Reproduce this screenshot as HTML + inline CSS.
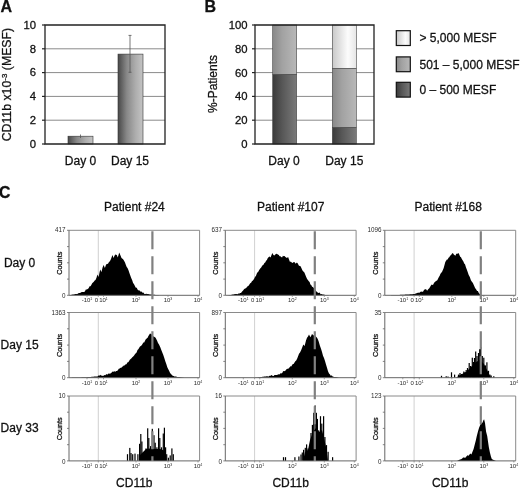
<!DOCTYPE html>
<html><head><meta charset="utf-8"><style>
html,body{margin:0;padding:0;background:#fff;width:520px;height:488px;overflow:hidden}
svg{display:block;filter:grayscale(1) blur(0.3px)}
text{font-family:"Liberation Sans",sans-serif;fill:#111;stroke:#111;stroke-width:0.28px}
.sm{fill:#2a2a2a;stroke:none}
</style></head><body>
<svg width="520" height="488" viewBox="0 0 520 488">
<defs>
<linearGradient id="gA" x1="0" x2="1" y1="0" y2="0"><stop offset="0" stop-color="#484848"/><stop offset="0.35" stop-color="#888"/><stop offset="0.7" stop-color="#adadad"/><stop offset="1" stop-color="#c4c4c4"/></linearGradient>
<linearGradient id="gD" x1="0" x2="1" y1="0" y2="0"><stop offset="0" stop-color="#3a3a3a"/><stop offset="0.4" stop-color="#575757"/><stop offset="1" stop-color="#7a7a7a"/></linearGradient>
<linearGradient id="gM" x1="0" x2="1" y1="0" y2="0"><stop offset="0" stop-color="#888"/><stop offset="0.4" stop-color="#a2a2a2"/><stop offset="1" stop-color="#b8b8b8"/></linearGradient>
<linearGradient id="gL" x1="0" x2="1" y1="0" y2="0"><stop offset="0" stop-color="#c8c8c8"/><stop offset="0.65" stop-color="#fcfcfc"/><stop offset="1" stop-color="#e6e6e6"/></linearGradient>
</defs>
<rect width="520" height="488" fill="#fff"/>
<text x="0.5" y="11.5" font-size="16" font-weight="bold" fill="#000">A</text>
<text x="204.6" y="11.5" font-size="16" font-weight="bold" fill="#000">B</text>
<text x="-1" y="198.2" font-size="15.8" font-weight="bold" fill="#000">C</text>
<line x1="45" y1="120.2" x2="165" y2="120.2" stroke="#8a8a8a" stroke-width="1"/>
<line x1="45" y1="96.4" x2="165" y2="96.4" stroke="#8a8a8a" stroke-width="1"/>
<line x1="45" y1="72.6" x2="165" y2="72.6" stroke="#8a8a8a" stroke-width="1"/>
<line x1="45" y1="48.8" x2="165" y2="48.8" stroke="#8a8a8a" stroke-width="1"/>
<rect x="68" y="136.2" width="25" height="7.8" fill="url(#gA)" stroke="#333" stroke-width="0.6"/>
<rect x="118" y="54.1" width="25" height="89.9" fill="url(#gA)" stroke="#333" stroke-width="0.6"/>
<line x1="80.5" y1="134.5" x2="80.5" y2="138" stroke="#555" stroke-width="0.8"/>
<line x1="130" y1="35.4" x2="130" y2="72.3" stroke="#555" stroke-width="0.8"/>
<line x1="128.5" y1="35.4" x2="131.5" y2="35.4" stroke="#555" stroke-width="0.8"/>
<line x1="128.5" y1="72.3" x2="131.5" y2="72.3" stroke="#555" stroke-width="0.8"/>
<path d="M45 25H165V144H45Z" fill="none" stroke="#222" stroke-width="1.3"/>
<line x1="42" y1="144.0" x2="45" y2="144.0" stroke="#222" stroke-width="1.2"/>
<text x="36" y="147.8" text-anchor="end" font-size="11.3">0</text>
<line x1="42" y1="120.2" x2="45" y2="120.2" stroke="#222" stroke-width="1.2"/>
<text x="36" y="124.0" text-anchor="end" font-size="11.3">2</text>
<line x1="42" y1="96.4" x2="45" y2="96.4" stroke="#222" stroke-width="1.2"/>
<text x="36" y="100.2" text-anchor="end" font-size="11.3">4</text>
<line x1="42" y1="72.6" x2="45" y2="72.6" stroke="#222" stroke-width="1.2"/>
<text x="36" y="76.4" text-anchor="end" font-size="11.3">6</text>
<line x1="42" y1="48.8" x2="45" y2="48.8" stroke="#222" stroke-width="1.2"/>
<text x="36" y="52.6" text-anchor="end" font-size="11.3">8</text>
<line x1="42" y1="25.0" x2="45" y2="25.0" stroke="#222" stroke-width="1.2"/>
<text x="36" y="28.9" text-anchor="end" font-size="11.3">10</text>
<text x="80.5" y="165" text-anchor="middle" font-size="12">Day 0</text>
<text x="130" y="165" text-anchor="middle" font-size="12">Day 15</text>
<text transform="translate(11.3 84.6) rotate(-90)" text-anchor="middle" font-size="12.3">CD11b x10<tspan font-size="8" dy="-4">-3</tspan><tspan dy="4"> (MESF)</tspan></text>
<line x1="255" y1="120.2" x2="374" y2="120.2" stroke="#8a8a8a" stroke-width="1"/>
<line x1="255" y1="96.4" x2="374" y2="96.4" stroke="#8a8a8a" stroke-width="1"/>
<line x1="255" y1="72.6" x2="374" y2="72.6" stroke="#8a8a8a" stroke-width="1"/>
<line x1="255" y1="48.8" x2="374" y2="48.8" stroke="#8a8a8a" stroke-width="1"/>
<rect x="272.7" y="74.3" width="24" height="69.7" fill="url(#gD)" stroke="#444" stroke-width="0.6"/>
<rect x="272.7" y="25.0" width="24" height="49.3" fill="url(#gM)" stroke="#444" stroke-width="0.6"/>
<rect x="332.3" y="127.3" width="24" height="16.7" fill="url(#gD)" stroke="#444" stroke-width="0.6"/>
<rect x="332.3" y="68.3" width="24" height="59.0" fill="url(#gM)" stroke="#444" stroke-width="0.6"/>
<rect x="332.3" y="25.0" width="24" height="43.3" fill="url(#gL)" stroke="#444" stroke-width="0.6"/>
<path d="M255 25H374V144H255Z" fill="none" stroke="#222" stroke-width="1.3"/>
<line x1="252" y1="144.0" x2="255" y2="144.0" stroke="#222" stroke-width="1.2"/>
<text x="247.6" y="147.8" text-anchor="end" font-size="11.3">0</text>
<line x1="252" y1="120.2" x2="255" y2="120.2" stroke="#222" stroke-width="1.2"/>
<text x="247.6" y="124.0" text-anchor="end" font-size="11.3">20</text>
<line x1="252" y1="96.4" x2="255" y2="96.4" stroke="#222" stroke-width="1.2"/>
<text x="247.6" y="100.2" text-anchor="end" font-size="11.3">40</text>
<line x1="252" y1="72.6" x2="255" y2="72.6" stroke="#222" stroke-width="1.2"/>
<text x="247.6" y="76.5" text-anchor="end" font-size="11.3">60</text>
<line x1="252" y1="48.8" x2="255" y2="48.8" stroke="#222" stroke-width="1.2"/>
<text x="247.6" y="52.7" text-anchor="end" font-size="11.3">80</text>
<line x1="252" y1="25.0" x2="255" y2="25.0" stroke="#222" stroke-width="1.2"/>
<text x="247.6" y="28.9" text-anchor="end" font-size="11.3">100</text>
<text x="284" y="165" text-anchor="middle" font-size="12">Day 0</text>
<text x="344.3" y="165" text-anchor="middle" font-size="12">Day 15</text>
<text transform="translate(216.5 84) rotate(-90)" text-anchor="middle" font-size="12">%-Patients</text>
<rect x="396.3" y="30.7" width="14" height="14.8" fill="url(#gL)" stroke="#111" stroke-width="1.2"/>
<text x="419.5" y="42.1" font-size="12">&gt; 5,000 MESF</text>
<rect x="396.3" y="56.9" width="14" height="14.8" fill="url(#gM)" stroke="#111" stroke-width="1.2"/>
<text x="419.5" y="69.3" font-size="12">501 – 5,000 MESF</text>
<rect x="396.3" y="82.3" width="14" height="14.8" fill="url(#gD)" stroke="#111" stroke-width="1.2"/>
<text x="419.5" y="94.1" font-size="12">0 – 500 MESF</text>
<line x1="98.3" y1="230.3" x2="98.3" y2="295.3" stroke="#c4c4c4" stroke-width="0.8"/>
<path d="M69.5 295.3L69.5 295.3L70.6 295.1L71.8 294.8L72.7 294.6L73.6 294.5L74.6 294.3L75.5 294.1L76.4 293.9L77.4 294.0L78.3 293.3L79.2 293.1L80.2 293.0L81.1 292.3L82.1 292.0L83.0 291.9L83.9 292.0L84.9 291.5L85.8 289.5L86.8 289.4L87.7 289.0L88.6 288.3L89.6 286.2L90.5 286.2L91.3 285.1L92.2 283.2L93.0 282.5L93.8 281.7L94.7 280.6L95.5 280.0L96.5 277.8L97.4 274.4L98.6 276.9L99.4 272.9L100.2 269.4L101.5 271.9L102.5 267.8L103.6 265.0L104.9 268.1L106.1 264.4L107.0 264.0L108.0 263.8L109.0 262.1L109.9 261.2L111.1 258.8L112.4 255.0L113.6 258.1L114.4 256.0L115.2 254.4L116.8 255.0L117.8 257.5L119.2 252.5L120.5 255.6L121.5 257.9L122.5 258.8L123.3 259.6L124.2 261.1L125.0 262.5L125.8 264.7L126.7 267.0L127.5 268.1L128.4 270.0L129.4 273.1L130.3 275.6L131.2 278.1L132.2 280.2L133.1 283.1L133.9 283.9L134.8 285.7L135.6 287.5L136.7 287.8L137.7 289.7L138.8 290.6L139.7 290.6L140.6 291.8L141.6 291.5L142.5 292.8L143.4 292.4L144.4 293.9L145.3 294.1L146.2 293.8L147.2 293.9L148.1 294.1L149.1 294.2L150.0 294.4L150.9 294.5L151.9 294.6L152.8 294.7L153.8 294.8L154.7 294.8L155.6 294.9L156.6 294.9L157.5 295.0L158.3 295.1L159.2 295.2L160.0 295.3L160.0 295.3Z" fill="#000"/>
<path d="M69 230.3H199.6V295.3" fill="none" stroke="#8a8a8a" stroke-width="1"/>
<path d="M69 230.3V295.3H199.6" fill="none" stroke="#666" stroke-width="1"/>
<line x1="67" y1="230.3" x2="69" y2="230.3" stroke="#666" stroke-width="0.8"/>
<line x1="67" y1="246.6" x2="69" y2="246.6" stroke="#666" stroke-width="0.8"/>
<line x1="67" y1="262.8" x2="69" y2="262.8" stroke="#666" stroke-width="0.8"/>
<line x1="67" y1="279.1" x2="69" y2="279.1" stroke="#666" stroke-width="0.8"/>
<line x1="67" y1="295.3" x2="69" y2="295.3" stroke="#666" stroke-width="0.8"/>
<text x="65.6" y="232.4" text-anchor="end" font-size="6.3" class="sm">417</text>
<text x="65.6" y="297.9" text-anchor="end" font-size="6.3" class="sm">0</text>
<text x="87.0" y="302.3" text-anchor="middle" font-size="6" class="sm">-10<tspan font-size="3.5" dy="-2">1</tspan></text>
<text x="96.3" y="302.3" text-anchor="middle" font-size="6" class="sm">0</text>
<text x="103.5" y="302.3" text-anchor="middle" font-size="6" class="sm">10<tspan font-size="3.5" dy="-2">1</tspan></text>
<text x="136.0" y="302.3" text-anchor="middle" font-size="6" class="sm">10<tspan font-size="3.5" dy="-2">2</tspan></text>
<text x="168.0" y="302.3" text-anchor="middle" font-size="6" class="sm">10<tspan font-size="3.5" dy="-2">3</tspan></text>
<text x="198.0" y="302.3" text-anchor="middle" font-size="6" class="sm">10<tspan font-size="3.5" dy="-2">4</tspan></text>
<line x1="87.0" y1="295.3" x2="87.0" y2="296.9" stroke="#777" stroke-width="0.7"/>
<line x1="98.3" y1="295.3" x2="98.3" y2="296.9" stroke="#777" stroke-width="0.7"/>
<line x1="103.5" y1="295.3" x2="103.5" y2="296.9" stroke="#777" stroke-width="0.7"/>
<line x1="136.0" y1="295.3" x2="136.0" y2="296.9" stroke="#777" stroke-width="0.7"/>
<line x1="168.0" y1="295.3" x2="168.0" y2="296.9" stroke="#777" stroke-width="0.7"/>
<line x1="198.0" y1="295.3" x2="198.0" y2="296.9" stroke="#777" stroke-width="0.7"/>
<text transform="translate(61.9 263.2) rotate(-90)" text-anchor="middle" font-size="7.3" stroke="#111" stroke-width="0.18">Counts</text>
<line x1="98.3" y1="312.5" x2="98.3" y2="377.7" stroke="#c4c4c4" stroke-width="0.8"/>
<path d="M70.5 377.7L70.5 377.7L71.3 377.7L72.1 377.6L72.9 377.6L73.8 377.6L74.6 377.6L75.4 377.6L76.2 377.5L77.0 377.5L77.8 377.5L78.6 377.4L79.4 377.4L80.2 377.4L81.1 377.4L81.9 377.3L82.7 377.3L83.5 377.3L84.3 377.3L85.1 377.2L85.9 377.2L86.8 377.2L87.6 377.1L88.4 377.1L89.2 377.0L90.1 376.9L90.9 376.9L91.8 376.8L92.6 376.7L93.4 376.7L94.2 376.6L95.1 376.5L95.9 376.5L96.8 376.4L97.6 376.6L98.4 375.6L99.2 375.4L100.0 375.5L100.9 374.8L101.8 375.9L102.7 375.7L103.6 375.8L104.5 375.1L105.4 375.3L106.3 374.1L107.2 374.8L108.1 373.8L109.0 373.6L109.9 373.7L110.8 373.2L111.7 372.6L112.6 371.5L113.5 371.7L114.4 371.2L115.3 371.8L116.2 371.1L117.1 370.9L118.0 370.0L118.8 368.8L119.7 368.4L120.6 367.8L121.4 367.8L122.2 366.7L123.1 366.2L124.0 365.3L124.8 365.5L125.6 364.2L126.5 364.3L127.3 362.4L128.2 362.2L129.0 361.2L129.8 359.8L130.7 359.1L131.5 358.2L132.3 357.3L133.2 356.5L134.1 355.4L134.9 354.3L135.8 353.3L136.6 352.4L137.5 349.9L138.3 349.2L139.2 347.7L140.0 346.4L140.8 346.0L141.7 345.3L142.5 344.1L143.3 342.6L144.2 342.5L145.0 340.8L145.8 339.3L146.7 338.5L147.6 337.7L148.4 336.0L150.0 333.4L151.6 334.2L152.6 335.9L153.6 336.6L154.6 337.1L155.6 337.7L157.0 340.6L158.0 343.0L159.0 344.6L160.3 347.3L161.3 350.0L162.3 352.6L163.3 355.1L164.3 358.0L165.3 361.2L166.3 364.0L167.3 367.3L168.3 369.3L169.2 370.9L170.1 372.9L171.0 374.0L171.9 375.1L172.7 375.8L173.6 375.9L174.4 376.4L175.3 376.4L176.2 376.6L177.0 376.9L177.8 377.0L178.6 377.1L179.4 377.1L180.2 377.2L181.0 377.3L182.0 377.4L183.0 377.6L184.0 377.7L184.0 377.7Z" fill="#000"/>
<path d="M69 312.5H199.6V377.7" fill="none" stroke="#8a8a8a" stroke-width="1"/>
<path d="M69 312.5V377.7H199.6" fill="none" stroke="#666" stroke-width="1"/>
<line x1="67" y1="312.5" x2="69" y2="312.5" stroke="#666" stroke-width="0.8"/>
<line x1="67" y1="328.8" x2="69" y2="328.8" stroke="#666" stroke-width="0.8"/>
<line x1="67" y1="345.1" x2="69" y2="345.1" stroke="#666" stroke-width="0.8"/>
<line x1="67" y1="361.4" x2="69" y2="361.4" stroke="#666" stroke-width="0.8"/>
<line x1="67" y1="377.7" x2="69" y2="377.7" stroke="#666" stroke-width="0.8"/>
<text x="65.6" y="314.6" text-anchor="end" font-size="6.3" class="sm">1363</text>
<text x="65.6" y="380.3" text-anchor="end" font-size="6.3" class="sm">0</text>
<text x="87.0" y="384.7" text-anchor="middle" font-size="6" class="sm">-10<tspan font-size="3.5" dy="-2">1</tspan></text>
<text x="96.3" y="384.7" text-anchor="middle" font-size="6" class="sm">0</text>
<text x="103.5" y="384.7" text-anchor="middle" font-size="6" class="sm">10<tspan font-size="3.5" dy="-2">1</tspan></text>
<text x="136.0" y="384.7" text-anchor="middle" font-size="6" class="sm">10<tspan font-size="3.5" dy="-2">2</tspan></text>
<text x="168.0" y="384.7" text-anchor="middle" font-size="6" class="sm">10<tspan font-size="3.5" dy="-2">3</tspan></text>
<text x="198.0" y="384.7" text-anchor="middle" font-size="6" class="sm">10<tspan font-size="3.5" dy="-2">4</tspan></text>
<line x1="87.0" y1="377.7" x2="87.0" y2="379.3" stroke="#777" stroke-width="0.7"/>
<line x1="98.3" y1="377.7" x2="98.3" y2="379.3" stroke="#777" stroke-width="0.7"/>
<line x1="103.5" y1="377.7" x2="103.5" y2="379.3" stroke="#777" stroke-width="0.7"/>
<line x1="136.0" y1="377.7" x2="136.0" y2="379.3" stroke="#777" stroke-width="0.7"/>
<line x1="168.0" y1="377.7" x2="168.0" y2="379.3" stroke="#777" stroke-width="0.7"/>
<line x1="198.0" y1="377.7" x2="198.0" y2="379.3" stroke="#777" stroke-width="0.7"/>
<text transform="translate(61.9 345.5) rotate(-90)" text-anchor="middle" font-size="7.3" stroke="#111" stroke-width="0.18">Counts</text>
<line x1="98.3" y1="396" x2="98.3" y2="460.9" stroke="#c4c4c4" stroke-width="0.8"/>
<path d="M139.0 460.9L139.0 460.9L140.0 455.0L143.0 452.0L146.0 449.0L150.0 448.5L156.0 449.0L160.0 449.0L163.0 450.0L165.5 452.0L166.5 460.9L166.5 460.9Z" fill="#000"/>
<rect x="126.9" y="454.2" width="1.2" height="6.7" fill="#000"/>
<rect x="129.2" y="447.9" width="1.2" height="13.0" fill="#000"/>
<rect x="130.4" y="453.0" width="1.2" height="7.9" fill="#000"/>
<rect x="132.1" y="454.2" width="1.2" height="6.7" fill="#000"/>
<rect x="134.4" y="453.6" width="1.2" height="7.3" fill="#000"/>
<rect x="137.3" y="454.2" width="1.2" height="6.7" fill="#000"/>
<rect x="139.0" y="443.8" width="1.2" height="17.1" fill="#000"/>
<rect x="140.2" y="434.0" width="1.2" height="26.9" fill="#000"/>
<rect x="141.3" y="441.5" width="1.2" height="19.4" fill="#000"/>
<rect x="143.6" y="453.0" width="1.2" height="7.9" fill="#000"/>
<rect x="145.4" y="448.4" width="1.2" height="12.5" fill="#000"/>
<rect x="147.1" y="428.3" width="1.2" height="32.6" fill="#000"/>
<rect x="148.2" y="438.0" width="1.2" height="22.9" fill="#000"/>
<rect x="150.0" y="446.1" width="1.2" height="14.8" fill="#000"/>
<rect x="151.7" y="428.8" width="1.2" height="32.1" fill="#000"/>
<rect x="153.4" y="435.2" width="1.2" height="25.7" fill="#000"/>
<rect x="154.6" y="442.7" width="1.2" height="18.2" fill="#000"/>
<rect x="156.3" y="447.3" width="1.2" height="13.6" fill="#000"/>
<rect x="158.0" y="428.3" width="1.2" height="32.6" fill="#000"/>
<rect x="159.2" y="438.0" width="1.2" height="22.9" fill="#000"/>
<rect x="160.9" y="447.3" width="1.2" height="13.6" fill="#000"/>
<rect x="162.7" y="433.5" width="1.2" height="27.4" fill="#000"/>
<rect x="163.8" y="427.7" width="1.2" height="33.2" fill="#000"/>
<rect x="165.0" y="447.3" width="1.2" height="13.6" fill="#000"/>
<rect x="166.1" y="454.2" width="1.2" height="6.7" fill="#000"/>
<rect x="167.8" y="457.7" width="1.2" height="3.2" fill="#000"/>
<rect x="169.6" y="455.4" width="1.2" height="5.5" fill="#000"/>
<rect x="171.3" y="448.4" width="1.2" height="12.5" fill="#000"/>
<rect x="172.7" y="454.2" width="1.2" height="6.7" fill="#000"/>
<path d="M69 396H199.6V460.9" fill="none" stroke="#8a8a8a" stroke-width="1"/>
<path d="M69 396V460.9H199.6" fill="none" stroke="#666" stroke-width="1"/>
<line x1="67" y1="396.0" x2="69" y2="396.0" stroke="#666" stroke-width="0.8"/>
<line x1="67" y1="412.2" x2="69" y2="412.2" stroke="#666" stroke-width="0.8"/>
<line x1="67" y1="428.4" x2="69" y2="428.4" stroke="#666" stroke-width="0.8"/>
<line x1="67" y1="444.7" x2="69" y2="444.7" stroke="#666" stroke-width="0.8"/>
<line x1="67" y1="460.9" x2="69" y2="460.9" stroke="#666" stroke-width="0.8"/>
<text x="65.6" y="398.1" text-anchor="end" font-size="6.3" class="sm">10</text>
<text x="65.6" y="463.5" text-anchor="end" font-size="6.3" class="sm">0</text>
<text x="87.0" y="467.9" text-anchor="middle" font-size="6" class="sm">-10<tspan font-size="3.5" dy="-2">1</tspan></text>
<text x="96.3" y="467.9" text-anchor="middle" font-size="6" class="sm">0</text>
<text x="103.5" y="467.9" text-anchor="middle" font-size="6" class="sm">10<tspan font-size="3.5" dy="-2">1</tspan></text>
<text x="136.0" y="467.9" text-anchor="middle" font-size="6" class="sm">10<tspan font-size="3.5" dy="-2">2</tspan></text>
<text x="168.0" y="467.9" text-anchor="middle" font-size="6" class="sm">10<tspan font-size="3.5" dy="-2">3</tspan></text>
<text x="198.0" y="467.9" text-anchor="middle" font-size="6" class="sm">10<tspan font-size="3.5" dy="-2">4</tspan></text>
<line x1="87.0" y1="460.9" x2="87.0" y2="462.5" stroke="#777" stroke-width="0.7"/>
<line x1="98.3" y1="460.9" x2="98.3" y2="462.5" stroke="#777" stroke-width="0.7"/>
<line x1="103.5" y1="460.9" x2="103.5" y2="462.5" stroke="#777" stroke-width="0.7"/>
<line x1="136.0" y1="460.9" x2="136.0" y2="462.5" stroke="#777" stroke-width="0.7"/>
<line x1="168.0" y1="460.9" x2="168.0" y2="462.5" stroke="#777" stroke-width="0.7"/>
<line x1="198.0" y1="460.9" x2="198.0" y2="462.5" stroke="#777" stroke-width="0.7"/>
<text transform="translate(61.9 428.8) rotate(-90)" text-anchor="middle" font-size="7.3" stroke="#111" stroke-width="0.18">Counts</text>
<line x1="254.6" y1="230.3" x2="254.6" y2="295.3" stroke="#c4c4c4" stroke-width="0.8"/>
<path d="M228.0 295.3L228.0 295.3L229.0 295.1L230.0 295.0L230.8 294.9L231.7 294.7L232.5 294.6L233.3 294.4L234.2 294.2L235.0 294.1L235.8 293.9L236.7 294.1L237.5 294.2L238.3 293.5L239.2 293.7L240.0 292.9L241.0 292.9L242.1 291.5L243.1 290.6L244.2 289.1L245.2 288.4L246.2 288.1L247.3 286.4L248.3 286.1L249.4 284.4L250.2 283.3L251.1 282.7L251.9 281.2L252.9 280.4L254.0 279.0L255.0 276.9L256.0 275.7L257.1 272.8L258.1 271.9L259.2 269.9L260.2 268.4L261.2 267.5L262.3 265.5L263.3 265.1L264.4 263.1L265.2 262.4L266.1 260.8L266.9 260.0L267.8 258.1L268.8 256.9L269.7 256.6L270.6 257.5L271.6 254.7L272.5 253.1L273.4 255.1L274.4 255.6L275.3 254.5L276.2 253.8L277.1 253.9L277.9 254.6L278.8 255.0L279.6 256.2L280.4 256.3L281.2 256.9L282.1 257.4L282.9 255.7L283.8 256.2L284.6 256.0L285.4 257.0L286.2 257.5L286.9 258.1L288.1 256.9L289.1 259.7L290.0 261.9L290.8 261.6L291.7 262.6L292.5 263.1L293.8 261.9L294.7 262.2L295.6 263.8L296.9 262.5L297.8 263.5L298.8 265.6L299.7 265.9L300.6 266.2L301.6 268.6L302.5 270.6L303.4 271.4L304.4 272.5L305.3 274.8L306.2 276.9L307.1 278.9L307.9 280.1L308.8 281.2L309.6 282.0L310.4 284.5L311.2 285.0L312.1 286.8L312.9 286.9L313.8 288.1L314.6 289.5L315.4 290.1L316.2 291.2L317.1 291.9L317.9 292.8L318.8 293.1L319.7 292.6L320.6 294.3L321.6 294.1L322.5 294.4L323.4 294.5L324.4 294.7L325.3 294.9L326.2 295.0L327.2 295.1L328.1 295.1L329.1 295.2L330.0 295.3L330.0 295.3Z" fill="#000"/>
<path d="M225.3 230.3H356.1V295.3" fill="none" stroke="#8a8a8a" stroke-width="1"/>
<path d="M225.3 230.3V295.3H356.1" fill="none" stroke="#666" stroke-width="1"/>
<line x1="223.3" y1="230.3" x2="225.3" y2="230.3" stroke="#666" stroke-width="0.8"/>
<line x1="223.3" y1="246.6" x2="225.3" y2="246.6" stroke="#666" stroke-width="0.8"/>
<line x1="223.3" y1="262.8" x2="225.3" y2="262.8" stroke="#666" stroke-width="0.8"/>
<line x1="223.3" y1="279.1" x2="225.3" y2="279.1" stroke="#666" stroke-width="0.8"/>
<line x1="223.3" y1="295.3" x2="225.3" y2="295.3" stroke="#666" stroke-width="0.8"/>
<text x="221.9" y="232.4" text-anchor="end" font-size="6.3" class="sm">637</text>
<text x="221.9" y="297.9" text-anchor="end" font-size="6.3" class="sm">0</text>
<text x="243.3" y="302.3" text-anchor="middle" font-size="6" class="sm">-10<tspan font-size="3.5" dy="-2">1</tspan></text>
<text x="252.6" y="302.3" text-anchor="middle" font-size="6" class="sm">0</text>
<text x="259.8" y="302.3" text-anchor="middle" font-size="6" class="sm">10<tspan font-size="3.5" dy="-2">1</tspan></text>
<text x="292.3" y="302.3" text-anchor="middle" font-size="6" class="sm">10<tspan font-size="3.5" dy="-2">2</tspan></text>
<text x="324.3" y="302.3" text-anchor="middle" font-size="6" class="sm">10<tspan font-size="3.5" dy="-2">3</tspan></text>
<text x="354.3" y="302.3" text-anchor="middle" font-size="6" class="sm">10<tspan font-size="3.5" dy="-2">4</tspan></text>
<line x1="243.3" y1="295.3" x2="243.3" y2="296.9" stroke="#777" stroke-width="0.7"/>
<line x1="254.6" y1="295.3" x2="254.6" y2="296.9" stroke="#777" stroke-width="0.7"/>
<line x1="259.8" y1="295.3" x2="259.8" y2="296.9" stroke="#777" stroke-width="0.7"/>
<line x1="292.3" y1="295.3" x2="292.3" y2="296.9" stroke="#777" stroke-width="0.7"/>
<line x1="324.3" y1="295.3" x2="324.3" y2="296.9" stroke="#777" stroke-width="0.7"/>
<line x1="354.3" y1="295.3" x2="354.3" y2="296.9" stroke="#777" stroke-width="0.7"/>
<text transform="translate(218.2 263.2) rotate(-90)" text-anchor="middle" font-size="7.3" stroke="#111" stroke-width="0.18">Counts</text>
<line x1="254.6" y1="312.5" x2="254.6" y2="377.7" stroke="#c4c4c4" stroke-width="0.8"/>
<path d="M255.0 377.7L255.0 377.7L255.8 377.6L256.7 377.5L257.5 377.4L258.3 377.3L259.2 377.2L260.0 377.1L260.8 377.0L261.7 376.9L262.5 376.8L263.3 376.7L264.2 376.6L265.0 376.5L265.8 376.4L266.7 376.3L267.5 376.2L268.3 376.8L269.2 375.7L270.0 376.0L270.9 375.6L271.8 375.0L272.7 376.0L273.6 375.9L274.5 375.0L275.4 375.0L276.2 375.1L277.2 375.1L278.1 374.2L279.1 374.4L280.0 373.9L280.8 372.9L281.6 373.5L282.4 372.8L283.2 371.1L284.0 371.3L284.8 371.0L285.6 370.6L286.4 369.2L287.2 368.9L288.0 368.6L288.8 368.5L289.6 367.2L290.4 366.3L291.2 366.5L292.0 365.3L292.8 364.0L293.6 363.9L294.5 362.6L295.3 361.3L296.2 360.4L297.1 358.7L298.0 356.6L299.0 353.8L300.0 352.6L301.0 350.5L302.0 348.0L303.3 344.6L304.6 346.0L306.0 340.6L307.0 337.8L308.0 336.6L309.0 334.6L310.4 337.3L311.2 335.8L312.0 334.0L313.3 335.3L314.3 335.5L315.3 336.0L316.6 337.3L317.6 338.7L318.6 341.3L320.0 346.0L321.0 348.7L322.0 352.0L323.0 355.7L324.0 358.0L325.0 361.1L326.0 364.6L327.0 367.7L328.0 371.3L329.0 373.5L330.0 374.6L330.9 376.0L331.7 375.3L332.6 376.6L333.5 376.7L334.3 376.9L335.1 377.0L336.0 377.1L337.0 377.3L338.0 377.5L339.0 377.7L339.0 377.7Z" fill="#000"/>
<path d="M225.3 312.5H356.1V377.7" fill="none" stroke="#8a8a8a" stroke-width="1"/>
<path d="M225.3 312.5V377.7H356.1" fill="none" stroke="#666" stroke-width="1"/>
<line x1="223.3" y1="312.5" x2="225.3" y2="312.5" stroke="#666" stroke-width="0.8"/>
<line x1="223.3" y1="328.8" x2="225.3" y2="328.8" stroke="#666" stroke-width="0.8"/>
<line x1="223.3" y1="345.1" x2="225.3" y2="345.1" stroke="#666" stroke-width="0.8"/>
<line x1="223.3" y1="361.4" x2="225.3" y2="361.4" stroke="#666" stroke-width="0.8"/>
<line x1="223.3" y1="377.7" x2="225.3" y2="377.7" stroke="#666" stroke-width="0.8"/>
<text x="221.9" y="314.6" text-anchor="end" font-size="6.3" class="sm">897</text>
<text x="221.9" y="380.3" text-anchor="end" font-size="6.3" class="sm">0</text>
<text x="243.3" y="384.7" text-anchor="middle" font-size="6" class="sm">-10<tspan font-size="3.5" dy="-2">1</tspan></text>
<text x="252.6" y="384.7" text-anchor="middle" font-size="6" class="sm">0</text>
<text x="259.8" y="384.7" text-anchor="middle" font-size="6" class="sm">10<tspan font-size="3.5" dy="-2">1</tspan></text>
<text x="292.3" y="384.7" text-anchor="middle" font-size="6" class="sm">10<tspan font-size="3.5" dy="-2">2</tspan></text>
<text x="324.3" y="384.7" text-anchor="middle" font-size="6" class="sm">10<tspan font-size="3.5" dy="-2">3</tspan></text>
<text x="354.3" y="384.7" text-anchor="middle" font-size="6" class="sm">10<tspan font-size="3.5" dy="-2">4</tspan></text>
<line x1="243.3" y1="377.7" x2="243.3" y2="379.3" stroke="#777" stroke-width="0.7"/>
<line x1="254.6" y1="377.7" x2="254.6" y2="379.3" stroke="#777" stroke-width="0.7"/>
<line x1="259.8" y1="377.7" x2="259.8" y2="379.3" stroke="#777" stroke-width="0.7"/>
<line x1="292.3" y1="377.7" x2="292.3" y2="379.3" stroke="#777" stroke-width="0.7"/>
<line x1="324.3" y1="377.7" x2="324.3" y2="379.3" stroke="#777" stroke-width="0.7"/>
<line x1="354.3" y1="377.7" x2="354.3" y2="379.3" stroke="#777" stroke-width="0.7"/>
<text transform="translate(218.2 345.5) rotate(-90)" text-anchor="middle" font-size="7.3" stroke="#111" stroke-width="0.18">Counts</text>
<line x1="254.6" y1="396" x2="254.6" y2="460.9" stroke="#c4c4c4" stroke-width="0.8"/>
<path d="M303.0 460.9L303.0 460.9L305.0 452.0L308.0 450.0L310.0 440.0L313.0 432.0L316.0 428.0L319.0 432.0L322.0 430.0L324.0 438.0L326.0 447.0L328.0 460.9L328.0 460.9Z" fill="#000"/>
<rect x="282.9" y="457.2" width="1.2" height="3.7" fill="#000"/>
<rect x="284.9" y="457.2" width="1.2" height="3.7" fill="#000"/>
<rect x="294.3" y="457.2" width="1.2" height="3.7" fill="#000"/>
<rect x="298.3" y="456.5" width="1.2" height="4.4" fill="#000"/>
<rect x="300.4" y="454.5" width="1.2" height="6.4" fill="#000"/>
<rect x="301.7" y="452.5" width="1.2" height="8.4" fill="#000"/>
<rect x="303.0" y="449.8" width="1.2" height="11.1" fill="#000"/>
<rect x="304.7" y="447.8" width="1.2" height="13.1" fill="#000"/>
<rect x="306.0" y="444.4" width="1.2" height="16.5" fill="#000"/>
<rect x="307.4" y="448.5" width="1.2" height="12.4" fill="#000"/>
<rect x="308.7" y="451.2" width="1.2" height="9.7" fill="#000"/>
<rect x="310.4" y="433.0" width="1.2" height="27.9" fill="#000"/>
<rect x="311.8" y="424.9" width="1.2" height="36.0" fill="#000"/>
<rect x="313.1" y="412.8" width="1.2" height="48.1" fill="#000"/>
<rect x="314.5" y="405.4" width="1.2" height="55.5" fill="#000"/>
<rect x="315.8" y="412.8" width="1.2" height="48.1" fill="#000"/>
<rect x="316.8" y="418.9" width="1.2" height="42.0" fill="#000"/>
<rect x="318.1" y="430.3" width="1.2" height="30.6" fill="#000"/>
<rect x="319.9" y="416.2" width="1.2" height="44.7" fill="#000"/>
<rect x="321.2" y="423.6" width="1.2" height="37.3" fill="#000"/>
<rect x="323.0" y="416.2" width="1.2" height="44.7" fill="#000"/>
<rect x="324.3" y="437.0" width="1.2" height="23.9" fill="#000"/>
<rect x="325.9" y="445.1" width="1.2" height="15.8" fill="#000"/>
<rect x="327.5" y="451.8" width="1.2" height="9.1" fill="#000"/>
<rect x="332.0" y="457.2" width="1.2" height="3.7" fill="#000"/>
<path d="M225.3 396H356.1V460.9" fill="none" stroke="#8a8a8a" stroke-width="1"/>
<path d="M225.3 396V460.9H356.1" fill="none" stroke="#666" stroke-width="1"/>
<line x1="223.3" y1="396.0" x2="225.3" y2="396.0" stroke="#666" stroke-width="0.8"/>
<line x1="223.3" y1="412.2" x2="225.3" y2="412.2" stroke="#666" stroke-width="0.8"/>
<line x1="223.3" y1="428.4" x2="225.3" y2="428.4" stroke="#666" stroke-width="0.8"/>
<line x1="223.3" y1="444.7" x2="225.3" y2="444.7" stroke="#666" stroke-width="0.8"/>
<line x1="223.3" y1="460.9" x2="225.3" y2="460.9" stroke="#666" stroke-width="0.8"/>
<text x="221.9" y="398.1" text-anchor="end" font-size="6.3" class="sm">16</text>
<text x="221.9" y="463.5" text-anchor="end" font-size="6.3" class="sm">0</text>
<text x="243.3" y="467.9" text-anchor="middle" font-size="6" class="sm">-10<tspan font-size="3.5" dy="-2">1</tspan></text>
<text x="252.6" y="467.9" text-anchor="middle" font-size="6" class="sm">0</text>
<text x="259.8" y="467.9" text-anchor="middle" font-size="6" class="sm">10<tspan font-size="3.5" dy="-2">1</tspan></text>
<text x="292.3" y="467.9" text-anchor="middle" font-size="6" class="sm">10<tspan font-size="3.5" dy="-2">2</tspan></text>
<text x="324.3" y="467.9" text-anchor="middle" font-size="6" class="sm">10<tspan font-size="3.5" dy="-2">3</tspan></text>
<text x="354.3" y="467.9" text-anchor="middle" font-size="6" class="sm">10<tspan font-size="3.5" dy="-2">4</tspan></text>
<line x1="243.3" y1="460.9" x2="243.3" y2="462.5" stroke="#777" stroke-width="0.7"/>
<line x1="254.6" y1="460.9" x2="254.6" y2="462.5" stroke="#777" stroke-width="0.7"/>
<line x1="259.8" y1="460.9" x2="259.8" y2="462.5" stroke="#777" stroke-width="0.7"/>
<line x1="292.3" y1="460.9" x2="292.3" y2="462.5" stroke="#777" stroke-width="0.7"/>
<line x1="324.3" y1="460.9" x2="324.3" y2="462.5" stroke="#777" stroke-width="0.7"/>
<line x1="354.3" y1="460.9" x2="354.3" y2="462.5" stroke="#777" stroke-width="0.7"/>
<text transform="translate(218.2 428.8) rotate(-90)" text-anchor="middle" font-size="7.3" stroke="#111" stroke-width="0.18">Counts</text>
<line x1="414.1" y1="230.3" x2="414.1" y2="295.3" stroke="#c4c4c4" stroke-width="0.8"/>
<path d="M386.5 295.3L386.5 295.3L387.3 295.3L388.1 295.2L388.9 295.2L389.8 295.2L390.6 295.2L391.4 295.1L392.2 295.1L393.0 295.1L393.8 295.1L394.6 295.0L395.4 295.0L396.2 295.0L397.1 294.9L397.9 294.9L398.7 294.9L399.5 294.9L400.3 294.8L401.1 294.8L401.9 294.8L402.8 294.8L403.6 294.7L404.4 294.7L405.2 294.6L406.0 294.6L406.8 294.5L407.6 294.5L408.4 294.4L409.2 294.4L410.0 294.3L410.8 294.3L411.6 294.2L412.4 294.2L413.2 294.1L414.0 294.1L414.8 293.9L415.7 293.6L416.5 293.2L417.3 292.9L418.2 292.5L419.0 293.1L420.0 292.3L421.0 291.5L422.0 291.8L423.0 291.7L424.0 290.1L425.0 289.2L426.1 289.2L427.1 290.8L428.2 289.2L429.3 288.2L430.9 285.5L431.7 284.6L432.5 285.0L433.3 284.6L434.1 282.8L435.7 281.2L436.5 280.8L437.3 280.2L438.9 277.0L439.7 275.8L440.5 273.8L441.3 272.7L442.1 271.7L443.7 267.9L444.5 264.9L445.3 262.1L446.9 259.4L447.7 259.4L448.5 257.8L449.3 257.2L450.1 255.7L451.1 254.9L452.2 253.3L453.0 253.2L453.8 254.6L455.4 255.7L456.2 254.1L457.0 253.5L457.8 253.8L458.6 253.0L460.2 256.7L461.0 257.3L461.8 258.9L463.4 261.5L464.2 263.5L465.0 264.2L466.0 267.4L466.8 269.4L467.6 271.7L468.7 275.0L469.8 277.0L470.9 280.2L471.9 281.8L472.9 283.0L474.0 285.5L475.1 287.9L476.2 289.4L477.1 291.1L477.9 291.0L478.8 293.1L479.7 293.9L480.6 294.8L481.5 294.9L482.4 294.9L483.2 295.1L484.1 295.1L485.0 295.2L486.0 295.3L487.0 295.3L487.0 295.3Z" fill="#000"/>
<path d="M384.8 230.3H515.7V295.3" fill="none" stroke="#8a8a8a" stroke-width="1"/>
<path d="M384.8 230.3V295.3H515.7" fill="none" stroke="#666" stroke-width="1"/>
<line x1="382.8" y1="230.3" x2="384.8" y2="230.3" stroke="#666" stroke-width="0.8"/>
<line x1="382.8" y1="246.6" x2="384.8" y2="246.6" stroke="#666" stroke-width="0.8"/>
<line x1="382.8" y1="262.8" x2="384.8" y2="262.8" stroke="#666" stroke-width="0.8"/>
<line x1="382.8" y1="279.1" x2="384.8" y2="279.1" stroke="#666" stroke-width="0.8"/>
<line x1="382.8" y1="295.3" x2="384.8" y2="295.3" stroke="#666" stroke-width="0.8"/>
<text x="381.40000000000003" y="232.4" text-anchor="end" font-size="6.3" class="sm">1096</text>
<text x="381.40000000000003" y="297.9" text-anchor="end" font-size="6.3" class="sm">0</text>
<text x="402.8" y="302.3" text-anchor="middle" font-size="6" class="sm">-10<tspan font-size="3.5" dy="-2">1</tspan></text>
<text x="412.1" y="302.3" text-anchor="middle" font-size="6" class="sm">0</text>
<text x="419.3" y="302.3" text-anchor="middle" font-size="6" class="sm">10<tspan font-size="3.5" dy="-2">1</tspan></text>
<text x="451.8" y="302.3" text-anchor="middle" font-size="6" class="sm">10<tspan font-size="3.5" dy="-2">2</tspan></text>
<text x="483.8" y="302.3" text-anchor="middle" font-size="6" class="sm">10<tspan font-size="3.5" dy="-2">3</tspan></text>
<text x="513.8" y="302.3" text-anchor="middle" font-size="6" class="sm">10<tspan font-size="3.5" dy="-2">4</tspan></text>
<line x1="402.8" y1="295.3" x2="402.8" y2="296.9" stroke="#777" stroke-width="0.7"/>
<line x1="414.1" y1="295.3" x2="414.1" y2="296.9" stroke="#777" stroke-width="0.7"/>
<line x1="419.3" y1="295.3" x2="419.3" y2="296.9" stroke="#777" stroke-width="0.7"/>
<line x1="451.8" y1="295.3" x2="451.8" y2="296.9" stroke="#777" stroke-width="0.7"/>
<line x1="483.8" y1="295.3" x2="483.8" y2="296.9" stroke="#777" stroke-width="0.7"/>
<line x1="513.8" y1="295.3" x2="513.8" y2="296.9" stroke="#777" stroke-width="0.7"/>
<text transform="translate(377.7 263.2) rotate(-90)" text-anchor="middle" font-size="7.3" stroke="#111" stroke-width="0.18">Counts</text>
<line x1="414.1" y1="312.5" x2="414.1" y2="377.7" stroke="#c4c4c4" stroke-width="0.8"/>
<path d="M456.0 377.7L456.0 377.7L460.0 375.0L466.0 372.0L472.0 366.0L476.0 362.0L480.0 360.0L484.0 364.0L488.0 372.0L491.0 377.7L491.0 377.7Z" fill="#000"/>
<rect x="440.9" y="375.8" width="1.2" height="1.9" fill="#000"/>
<rect x="445.6" y="376.2" width="1.2" height="1.5" fill="#000"/>
<rect x="447.4" y="376.5" width="1.2" height="1.2" fill="#000"/>
<rect x="450.9" y="372.3" width="1.2" height="5.4" fill="#000"/>
<rect x="454.0" y="374.6" width="1.2" height="3.1" fill="#000"/>
<rect x="457.9" y="374.6" width="1.2" height="3.1" fill="#000"/>
<rect x="459.4" y="373.0" width="1.2" height="4.7" fill="#000"/>
<rect x="460.9" y="374.0" width="1.2" height="3.7" fill="#000"/>
<rect x="463.2" y="371.5" width="1.2" height="6.2" fill="#000"/>
<rect x="464.4" y="372.0" width="1.2" height="5.7" fill="#000"/>
<rect x="465.6" y="370.0" width="1.2" height="7.7" fill="#000"/>
<rect x="466.9" y="368.0" width="1.2" height="9.7" fill="#000"/>
<rect x="468.6" y="363.0" width="1.2" height="14.7" fill="#000"/>
<rect x="469.9" y="366.0" width="1.2" height="11.7" fill="#000"/>
<rect x="471.7" y="357.7" width="1.2" height="20.0" fill="#000"/>
<rect x="472.9" y="362.0" width="1.2" height="15.7" fill="#000"/>
<rect x="473.9" y="358.0" width="1.2" height="19.7" fill="#000"/>
<rect x="475.1" y="351.5" width="1.2" height="26.2" fill="#000"/>
<rect x="476.4" y="356.0" width="1.2" height="21.7" fill="#000"/>
<rect x="477.9" y="353.0" width="1.2" height="24.7" fill="#000"/>
<rect x="479.1" y="349.2" width="1.2" height="28.5" fill="#000"/>
<rect x="480.2" y="347.0" width="1.2" height="30.7" fill="#000"/>
<rect x="481.7" y="356.0" width="1.2" height="21.7" fill="#000"/>
<rect x="483.2" y="357.7" width="1.2" height="20.0" fill="#000"/>
<rect x="484.8" y="365.4" width="1.2" height="12.3" fill="#000"/>
<rect x="486.3" y="362.3" width="1.2" height="15.4" fill="#000"/>
<rect x="487.9" y="370.8" width="1.2" height="6.9" fill="#000"/>
<rect x="489.4" y="374.6" width="1.2" height="3.1" fill="#000"/>
<rect x="490.6" y="375.5" width="1.2" height="2.2" fill="#000"/>
<rect x="493.2" y="376.2" width="1.2" height="1.5" fill="#000"/>
<path d="M384.8 312.5H515.7V377.7" fill="none" stroke="#8a8a8a" stroke-width="1"/>
<path d="M384.8 312.5V377.7H515.7" fill="none" stroke="#666" stroke-width="1"/>
<line x1="382.8" y1="312.5" x2="384.8" y2="312.5" stroke="#666" stroke-width="0.8"/>
<line x1="382.8" y1="328.8" x2="384.8" y2="328.8" stroke="#666" stroke-width="0.8"/>
<line x1="382.8" y1="345.1" x2="384.8" y2="345.1" stroke="#666" stroke-width="0.8"/>
<line x1="382.8" y1="361.4" x2="384.8" y2="361.4" stroke="#666" stroke-width="0.8"/>
<line x1="382.8" y1="377.7" x2="384.8" y2="377.7" stroke="#666" stroke-width="0.8"/>
<text x="381.40000000000003" y="314.6" text-anchor="end" font-size="6.3" class="sm">35</text>
<text x="381.40000000000003" y="380.3" text-anchor="end" font-size="6.3" class="sm">0</text>
<text x="402.8" y="384.7" text-anchor="middle" font-size="6" class="sm">-10<tspan font-size="3.5" dy="-2">1</tspan></text>
<text x="412.1" y="384.7" text-anchor="middle" font-size="6" class="sm">0</text>
<text x="419.3" y="384.7" text-anchor="middle" font-size="6" class="sm">10<tspan font-size="3.5" dy="-2">1</tspan></text>
<text x="451.8" y="384.7" text-anchor="middle" font-size="6" class="sm">10<tspan font-size="3.5" dy="-2">2</tspan></text>
<text x="483.8" y="384.7" text-anchor="middle" font-size="6" class="sm">10<tspan font-size="3.5" dy="-2">3</tspan></text>
<text x="513.8" y="384.7" text-anchor="middle" font-size="6" class="sm">10<tspan font-size="3.5" dy="-2">4</tspan></text>
<line x1="402.8" y1="377.7" x2="402.8" y2="379.3" stroke="#777" stroke-width="0.7"/>
<line x1="414.1" y1="377.7" x2="414.1" y2="379.3" stroke="#777" stroke-width="0.7"/>
<line x1="419.3" y1="377.7" x2="419.3" y2="379.3" stroke="#777" stroke-width="0.7"/>
<line x1="451.8" y1="377.7" x2="451.8" y2="379.3" stroke="#777" stroke-width="0.7"/>
<line x1="483.8" y1="377.7" x2="483.8" y2="379.3" stroke="#777" stroke-width="0.7"/>
<line x1="513.8" y1="377.7" x2="513.8" y2="379.3" stroke="#777" stroke-width="0.7"/>
<text transform="translate(377.7 345.5) rotate(-90)" text-anchor="middle" font-size="7.3" stroke="#111" stroke-width="0.18">Counts</text>
<line x1="414.1" y1="396" x2="414.1" y2="460.9" stroke="#c4c4c4" stroke-width="0.8"/>
<path d="M457.0 460.9L457.0 460.9L458.5 460.2L460.0 459.5L461.1 459.2L462.2 458.4L463.1 457.5L464.0 457.4L464.9 457.8L465.7 457.5L466.5 456.2L467.6 455.3L468.7 455.7L469.5 454.4L470.3 453.5L471.4 454.6L472.5 451.8L473.6 449.1L474.7 444.8L475.8 440.4L476.8 436.1L477.9 431.7L479.0 427.9L480.1 425.2L481.2 423.0L482.3 423.0L483.4 420.3L484.1 419.2L485.0 423.0L486.1 431.7L487.2 436.1L488.0 441.5L488.8 447.0L489.9 452.4L491.0 456.7L491.8 458.9L492.6 459.5L493.7 460.0L494.8 460.5L496.0 460.9L496.0 460.9Z" fill="#000"/>
<path d="M384.8 396H515.7V460.9" fill="none" stroke="#8a8a8a" stroke-width="1"/>
<path d="M384.8 396V460.9H515.7" fill="none" stroke="#666" stroke-width="1"/>
<line x1="382.8" y1="396.0" x2="384.8" y2="396.0" stroke="#666" stroke-width="0.8"/>
<line x1="382.8" y1="412.2" x2="384.8" y2="412.2" stroke="#666" stroke-width="0.8"/>
<line x1="382.8" y1="428.4" x2="384.8" y2="428.4" stroke="#666" stroke-width="0.8"/>
<line x1="382.8" y1="444.7" x2="384.8" y2="444.7" stroke="#666" stroke-width="0.8"/>
<line x1="382.8" y1="460.9" x2="384.8" y2="460.9" stroke="#666" stroke-width="0.8"/>
<text x="381.40000000000003" y="398.1" text-anchor="end" font-size="6.3" class="sm">123</text>
<text x="381.40000000000003" y="463.5" text-anchor="end" font-size="6.3" class="sm">0</text>
<text x="402.8" y="467.9" text-anchor="middle" font-size="6" class="sm">-10<tspan font-size="3.5" dy="-2">1</tspan></text>
<text x="412.1" y="467.9" text-anchor="middle" font-size="6" class="sm">0</text>
<text x="419.3" y="467.9" text-anchor="middle" font-size="6" class="sm">10<tspan font-size="3.5" dy="-2">1</tspan></text>
<text x="451.8" y="467.9" text-anchor="middle" font-size="6" class="sm">10<tspan font-size="3.5" dy="-2">2</tspan></text>
<text x="483.8" y="467.9" text-anchor="middle" font-size="6" class="sm">10<tspan font-size="3.5" dy="-2">3</tspan></text>
<text x="513.8" y="467.9" text-anchor="middle" font-size="6" class="sm">10<tspan font-size="3.5" dy="-2">4</tspan></text>
<line x1="402.8" y1="460.9" x2="402.8" y2="462.5" stroke="#777" stroke-width="0.7"/>
<line x1="414.1" y1="460.9" x2="414.1" y2="462.5" stroke="#777" stroke-width="0.7"/>
<line x1="419.3" y1="460.9" x2="419.3" y2="462.5" stroke="#777" stroke-width="0.7"/>
<line x1="451.8" y1="460.9" x2="451.8" y2="462.5" stroke="#777" stroke-width="0.7"/>
<line x1="483.8" y1="460.9" x2="483.8" y2="462.5" stroke="#777" stroke-width="0.7"/>
<line x1="513.8" y1="460.9" x2="513.8" y2="462.5" stroke="#777" stroke-width="0.7"/>
<text transform="translate(377.7 428.8) rotate(-90)" text-anchor="middle" font-size="7.3" stroke="#111" stroke-width="0.18">Counts</text>
<line x1="152.4" y1="231.3" x2="152.4" y2="461" stroke="#808080" stroke-width="2.2" stroke-dasharray="18 7"/>
<line x1="314.8" y1="231.3" x2="314.8" y2="461" stroke="#808080" stroke-width="2.2" stroke-dasharray="18 7"/>
<line x1="480.8" y1="231.3" x2="480.8" y2="461" stroke="#808080" stroke-width="2.2" stroke-dasharray="18 7"/>
<text x="134.4" y="211.4" text-anchor="middle" font-size="12">Patient #24</text>
<text x="290.7" y="211.4" text-anchor="middle" font-size="12">Patient #107</text>
<text x="448.2" y="211.4" text-anchor="middle" font-size="12">Patient #168</text>
<text x="19.6" y="266.6" text-anchor="middle" font-size="12">Day 0</text>
<text x="19.6" y="348.5" text-anchor="middle" font-size="12">Day 15</text>
<text x="19.6" y="432.3" text-anchor="middle" font-size="12">Day 33</text>
<text x="134.3" y="486.8" text-anchor="middle" font-size="12">CD11b</text>
<text x="290.7" y="486.8" text-anchor="middle" font-size="12">CD11b</text>
<text x="450.2" y="486.8" text-anchor="middle" font-size="12">CD11b</text>
</svg></body></html>
